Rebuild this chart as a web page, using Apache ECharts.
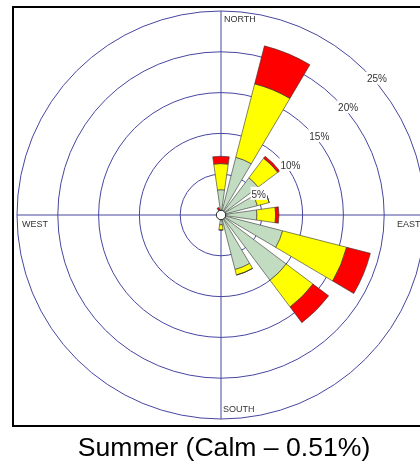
<!DOCTYPE html>
<html><head><meta charset="utf-8">
<script src="https://cdn.jsdelivr.net/npm/echarts@6/dist/echarts.min.js"></script>
<style>html,body{margin:0;padding:0;background:#fff}#c{width:420px;height:466px}</style>
</head><body><div id="c"></div>
<script>
var directions = ['N','NNE','NE','ENE','E','ESE','SE','SSE','S','SSW','SW','WSW','W','WNW','NW','NNW'];
// percentages per speed band (stacked)
var bandLow  = [3.1, 7.3, 5.7, 4.6, 4.4, 7.8, 10.0, 6.9, 1.2, 0, 0, 0, 0, 0, 0, 0.7];
var bandMid  = [3.2, 9.3, 3.0, 1.5, 2.3, 8.1, 4.1, 0.7, 0.65, 0, 0, 0, 0, 0, 0, 0];
var bandHigh = [0.9, 4.8, 0.3, 0.0, 0.4, 3.0, 2.4, 0, 0, 0, 0, 0, 0, 0, 0, 0.25];
var ringTicks = [5, 10, 15, 20, 25];
var compassLabels = ['NORTH', 'EAST', 'SOUTH', 'WEST'];
var titleText = 'Summer (Calm \u2013 0.51%)';

var CX = 221, CY = 215, R = 204;
var gridColor = '#4646a0';
var chart = echarts.init(document.getElementById('c'));
function bar(name, data, color) {
  return {
    type: 'bar', coordinateSystem: 'polar', polarIndex: 0, stack: 'w', name: name,
    data: data, barCategoryGap: '28%',
    itemStyle: { color: color, borderColor: '#333', borderWidth: 0.6 },
    z: 3, silent: true
  };
}
var hidden = { axisLine: { show: false }, axisTick: { show: false }, axisLabel: { show: false }, splitLine: { show: false } };
chart.setOption({
  animation: false,
  title: {
    text: titleText, left: 219, top: 430, textAlign: 'center',
    textStyle: { fontFamily: 'Liberation Sans, Arial', fontSize: 26.6, fontWeight: 'normal', color: '#000' }
  },
  polar: [
    { center: [CX, CY], radius: R },
    { center: [CX, CY], radius: R },
    { center: [CX, CY], radius: R }
  ],
  angleAxis: [
    Object.assign({ polarIndex: 0, type: 'category', data: directions, startAngle: 90 + 11.25, clockwise: true, boundaryGap: true, z: 1 }, hidden),
    { polarIndex: 1, type: 'value', min: 0, max: 360, interval: 90, startAngle: 90, clockwise: true,
      axisLine: { show: false }, axisTick: { show: false }, axisLabel: { show: false },
      splitLine: { show: true, lineStyle: { color: gridColor, width: 1 } }, z: 1 },
    Object.assign({ polarIndex: 2, type: 'value', min: 0, max: 360, startAngle: 45, clockwise: true, z: 1 }, hidden)
  ],
  radiusAxis: [
    { polarIndex: 0, type: 'value', min: 0, max: 25, interval: 5,
      axisLine: { show: false }, axisTick: { show: false }, axisLabel: { show: false },
      splitLine: { show: true, lineStyle: { color: gridColor, width: 1 } }, z: 1 },
    Object.assign({ polarIndex: 1, type: 'value', min: 0, max: 25, interval: 5, z: 1 }, hidden),
    { polarIndex: 2, type: 'value', min: 0, max: 25, interval: 5,
      axisLine: { show: false }, axisTick: { show: false },
      splitLine: { show: false },
      axisLabel: { show: true, showMinLabel: false, margin: -1, align: 'left', verticalAlign: 'top',
        formatter: function (v) { return ringTicks.indexOf(v) >= 0 ? v + '%' : ''; },
        fontFamily: 'Liberation Sans, Arial', fontSize: 10, color: '#333',
        backgroundColor: '#fff', padding: [3, 1, 0, 1] },
      z: 10 }
  ],
  series: [
    bar('low', bandLow, '#c2dcc2'),
    bar('mid', bandMid, '#ffff00'),
    bar('high', bandHigh, '#ff0000')
  ],
  graphic: [
    { type: 'rect', shape: { x: 13, y: 7, width: 430, height: 419 },
      style: { fill: 'none', stroke: '#000', lineWidth: 2 }, z: 20, silent: true },
    { type: 'circle', shape: { cx: CX, cy: CY, r: 4.7 },
      style: { fill: '#fff', stroke: '#222', lineWidth: 1 }, z: 20, silent: true },
    { type: 'text', x: CX + 3, y: CY - R + 4, style: { text: compassLabels[0], font: '9px "Liberation Sans", Arial', fill: '#333' }, z: 20 },
    { type: 'text', x: CX + R - 28, y: CY + 5, style: { text: compassLabels[1], font: '9px "Liberation Sans", Arial', fill: '#333' }, z: 20 },
    { type: 'text', x: CX + 2, y: CY + R - 14, style: { text: compassLabels[2], font: '9px "Liberation Sans", Arial', fill: '#333' }, z: 20 },
    { type: 'text', x: CX - R + 5, y: CY + 5, style: { text: compassLabels[3], font: '9px "Liberation Sans", Arial', fill: '#333' }, z: 20 }
  ]
});
</script>
</body></html>
